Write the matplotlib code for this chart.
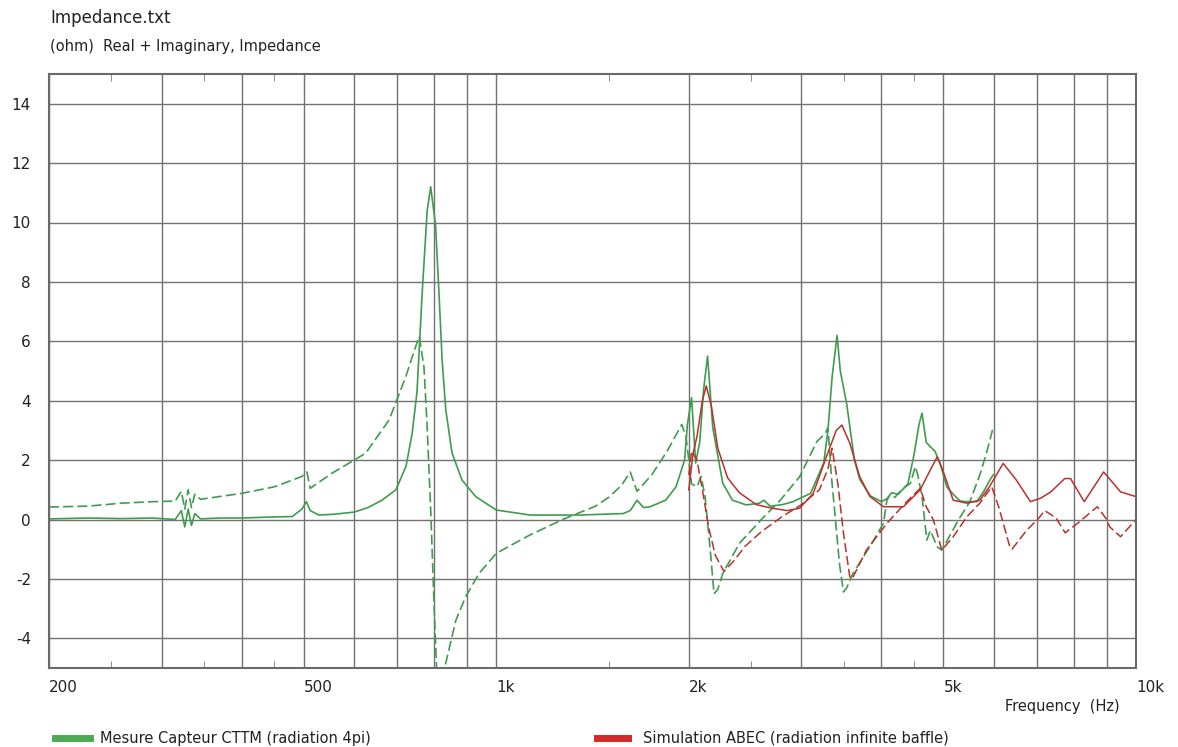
import numpy as np
import matplotlib
matplotlib.use('Agg')
import matplotlib.pyplot as plt
from matplotlib.lines import Line2D
from matplotlib.ticker import FixedLocator, NullFormatter

plt.rcParams['axes.unicode_minus'] = False

# measured (green), real part
meas_re_f = [200, 230, 260, 290, 315, 322, 326, 330, 334, 338, 345, 370, 400, 440, 480, 497, 505, 512, 528,
             560, 600, 630, 663, 697, 723, 739, 752, 766, 780, 790, 804, 814, 823, 834, 853, 884, 929, 1000,
             1130, 1350, 1580, 1620, 1660, 1700, 1740, 1840, 1910, 1970, 1990, 2020, 2050, 2080, 2110, 2140,
             2180, 2260, 2340, 2460, 2580, 2620, 2680, 2800, 2910, 3100, 3250, 3300, 3350, 3410, 3450, 3530,
             3630, 3700, 3840, 4000, 4080, 4150, 4250, 4400, 4500, 4580, 4630, 4700, 4770, 4850, 4940, 5060,
             5180, 5310, 5440, 5640, 5800, 5900, 5980]
meas_re_z = [0.02, 0.05, 0.03, 0.05, 0.0, 0.3, -0.25, 0.35, -0.2, 0.2, 0.02, 0.05, 0.05, 0.08, 0.1, 0.35, 0.6,
             0.3, 0.15, 0.18, 0.25, 0.4, 0.65, 1.0, 1.8, 2.9, 4.3, 7.6, 10.4, 11.2, 9.9, 7.6, 5.4, 3.7, 2.24,
             1.33, 0.77, 0.32, 0.15, 0.15, 0.2, 0.3, 0.65, 0.4, 0.43, 0.65, 1.1, 2.0, 3.2, 4.1, 1.9, 2.6, 4.4,
             5.5, 3.1, 1.22, 0.65, 0.49, 0.55, 0.65, 0.45, 0.5, 0.6, 0.88, 1.9, 3.0, 4.8, 6.2, 5.0, 3.9, 2.0,
             1.35, 0.8, 0.6, 0.7, 0.9, 0.85, 1.2, 2.2, 3.2, 3.58, 2.6, 2.45, 2.3, 1.9, 1.1, 0.85, 0.62, 0.6,
             0.6, 1.0, 1.3, 1.5]

# measured (green), imaginary part
meas_im_f = [200, 230, 260, 290, 315, 322, 326, 330, 334, 338, 345, 400, 450, 497, 506, 512, 553, 625, 680, 722,
             745, 758, 771, 780, 790, 800, 812, 829, 865, 896, 940, 1000, 1127, 1270, 1430, 1500, 1570, 1620,
             1660, 1750, 1850, 1950, 1980, 2020, 2060, 2090, 2120, 2160, 2190, 2220, 2260, 2400, 2550, 2610,
             2780, 2980, 3170, 3270, 3300, 3340, 3390, 3440, 3490, 3530, 3610, 3840, 4030, 4080, 4120, 4200,
             4300, 4440, 4520, 4560, 4630, 4710, 4770, 4890, 4970, 5100, 5300, 5500, 5700, 5850, 5980]
meas_im_z = [0.42, 0.45, 0.55, 0.6, 0.62, 0.95, 0.35, 1.0, 0.4, 0.85, 0.68, 0.88, 1.1, 1.45, 1.6, 1.05, 1.55,
             2.23, 3.35, 4.8, 5.7, 6.16, 5.15, 3.12, 0.32, -3.0, -6.5, -5.07, -3.39, -2.6, -1.82, -1.14, -0.53,
             0.0, 0.45, 0.75, 1.15, 1.6, 0.95, 1.5, 2.3, 3.2, 2.8, 1.2, 1.1, 1.45, 0.8, -1.0, -2.5, -2.35,
             -1.82, -0.8, -0.19, 0.05, 0.65, 1.44, 2.62, 2.9, 3.1, 1.5, 0.0, -1.5, -2.44, -2.3, -1.82, -0.9,
             -0.13, 0.65, 0.8, 0.75, 1.0, 1.22, 1.78, 1.5, 0.77, -0.69, -0.37, -0.92, -1.03, -0.6, 0.05, 0.6,
             1.5, 2.3, 3.1]

# simulation (red), real part
sim_re_f = [2000, 2030, 2060, 2100, 2130, 2170, 2220, 2300, 2400, 2550, 2700, 2850, 2980, 3130, 3280, 3400, 3470,
            3570, 3700, 3840, 4030, 4330, 4600, 4770, 4890, 5000, 5180, 5440, 5700, 5900, 6200, 6500, 6840,
            7100, 7360, 7740, 7900, 8300, 8900, 9460, 10000]
sim_re_z = [1.0, 2.2, 2.8, 4.0, 4.5, 3.8, 2.4, 1.4, 0.9, 0.5, 0.38, 0.3, 0.38, 0.88, 2.1, 3.0, 3.18, 2.57, 1.44,
            0.77, 0.43, 0.43, 1.0, 1.67, 2.11, 1.6, 0.65, 0.55, 0.65, 1.1, 1.89, 1.33, 0.6, 0.72, 0.93, 1.38,
            1.38, 0.6, 1.6, 0.93, 0.77]

# simulation (red), imaginary part
sim_im_f = [2000, 2020, 2060, 2100, 2150, 2200, 2270, 2350, 2450, 2600, 2800, 3000, 3200, 3300, 3350, 3420, 3490,
            3570, 3600, 3790, 4080, 4380, 4600, 4700, 4820, 4890, 4970, 5180, 5440, 5700, 5950, 6100, 6350,
            6400, 6750, 7050, 7200, 7500, 7750, 8100, 8700, 9000, 9100, 9460, 10000]
sim_im_z = [1.5, 2.3, 2.0, 1.0, -0.3, -1.2, -1.75, -1.4, -0.9, -0.4, 0.1, 0.5, 1.0, 1.7, 2.4, 1.2, -0.47,
            -1.93, -2.0, -1.03, -0.13, 0.6, 1.05, 0.43, 0.0, -0.47, -1.03, -0.58, 0.09, 0.55, 1.1, 0.43, -0.92,
            -1.0, -0.36, 0.05, 0.3, 0.05, -0.45, -0.13, 0.43, 0.0, -0.25, -0.58, 0.0]

grid_f = [200, 300, 400, 500, 600, 700, 800, 900, 1000, 2000, 3000, 4000, 5000, 6000, 7000, 8000, 9000, 10000]
label_f = {200: '200', 500: '500', 1000: '1k', 2000: '2k', 5000: '5k', 10000: '10k'}
minor_f = [250, 350, 450, 1500, 2500, 3500, 4500]
y_ticks = [-4, -2, 0, 2, 4, 6, 8, 10, 12, 14]

green = '#3f9c4e'
red = '#b8322c'
dash = (0, (6, 2.5))

W, H = 1178, 747
fig = plt.figure(figsize=(W / 100, H / 100), dpi=100)
ax = fig.add_axes([49 / W, 1 - 668 / H, (1136 - 49) / W, (668 - 74) / H])

ax.plot(meas_re_f, meas_re_z, color=green, lw=1.2)
ax.plot(meas_im_f, meas_im_z, color=green, lw=1.2, ls=dash)
ax.plot(sim_re_f, sim_re_z, color=red, lw=1.1)
ax.plot(sim_im_f, sim_im_z, color=red, lw=1.1, ls=dash)

ax.set_xscale('log')
ax.set_xlim(200, 10000)
ax.set_ylim(-5, 15)
ax.set_xticks(grid_f)
ax.set_xticklabels([label_f.get(f, '') for f in grid_f])
for t in ax.get_xticklabels():
    t.set_ha('left')
ax.xaxis.set_minor_locator(FixedLocator(minor_f))
ax.xaxis.set_minor_formatter(NullFormatter())
ax.set_yticks(y_ticks)
ax.grid(True, which='major', color='#727272', lw=1.0)
ax.tick_params(which='major', length=0, labelsize=11, colors='#222222')
ax.tick_params(axis='x', which='major', pad=9)
ax.tick_params(axis='y', which='major', pad=13)
ax.tick_params(which='minor', direction='in', length=5, top=True, bottom=True, color='#7a7a7a')
for s in ax.spines.values():
    s.set_color('#6a6a6a')
    s.set_linewidth(1.5)
ax.set_axisbelow(True)

fig.text(50 / W, 1 - 18 / H, 'Impedance.txt', fontsize=12, va='center', ha='left', color='#222222')
fig.text(50 / W, 1 - 46 / H, '(ohm)  Real + Imaginary, Impedance', fontsize=10.5, va='center', ha='left', color='#222222')
fig.text(1120 / W, 1 - 706 / H, 'Frequency  (Hz)', fontsize=10.5, va='center', ha='right', color='#222222')

# legend drawn by hand under the axes
ly = 1 - 738 / H
fig.add_artist(Line2D([55 / W, 90 / W], [ly, ly], color='#4caa55', lw=5, transform=fig.transFigure))
fig.text(100 / W, ly, 'Mesure Capteur CTTM (radiation 4pi)', fontsize=10.5, va='center', color='#222222')
fig.add_artist(Line2D([597 / W, 628 / W], [ly, ly], color='#d22a2a', lw=5, transform=fig.transFigure))
fig.text(643 / W, ly, 'Simulation ABEC (radiation infinite baffle)', fontsize=10.5, va='center', color='#222222')

fig.savefig('out.png', dpi=100)
